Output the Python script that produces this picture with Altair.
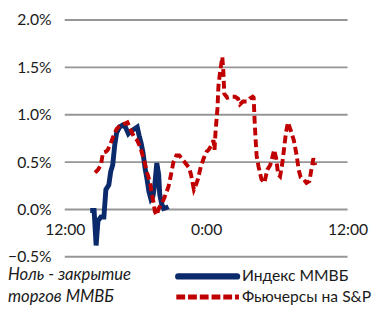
import altair as alt
import pandas as pd

# hours since 12:00 of day 1, values in %
micex_h = [2.16, 2.49, 2.66, 2.82, 3.07, 3.32, 3.49, 3.74, 3.90, 4.07, 4.24, 4.40, 4.65, 4.90, 5.15, 5.40, 5.65, 5.90,
           6.15, 6.31, 6.48, 6.64, 6.81, 6.98, 7.14, 7.31, 7.48, 7.64, 7.81, 7.97, 8.06, 8.22, 8.39, 8.64, 8.80]
micex_v = [-0.01, -0.01, -0.38, -0.12, -0.08, -0.08, 0.21, 0.26, 0.40, 0.47, 0.68, 0.81, 0.87, 0.89, 0.87, 0.80, 0.83, 0.85,
           0.87, 0.78, 0.70, 0.60, 0.44, 0.32, 0.19, 0.11, 0.14, 0.26, 0.49, 0.37, 0.16, 0.06, 0.01, 0.02, 0.03]

spx_h = [2.57, 2.82, 3.07, 3.24, 3.49, 3.65, 3.90, 4.15, 4.40, 4.65, 4.98, 5.32, 5.56, 5.90, 6.15, 6.40, 6.73, 6.98,
         7.23, 7.39, 7.56, 7.64, 7.81, 7.97, 8.22, 8.47, 8.80, 8.97, 9.22, 9.47, 9.72, 10.05, 10.30, 10.55, 10.71, 10.88,
         10.96, 11.13, 11.30, 11.54, 11.79, 12.04, 12.21, 12.46, 12.62, 12.71, 12.79, 12.96, 13.04, 13.21, 13.37, 13.46,
         13.54, 13.79, 14.12, 14.45, 14.70, 14.87, 15.12, 15.45, 15.70, 15.95, 16.03, 16.11, 16.20, 16.28, 16.45, 16.69,
         16.94, 17.19, 17.44, 17.61, 17.77, 17.94, 18.11, 18.27, 18.44, 18.60, 18.77, 18.94, 19.19, 19.44, 19.68, 19.85,
         20.02, 20.27, 20.51, 20.76, 20.93, 21.10, 21.26]
spx_v = [0.39, 0.42, 0.47, 0.60, 0.61, 0.63, 0.70, 0.78, 0.85, 0.88, 0.90, 0.92, 0.85, 0.76, 0.73, 0.66, 0.52, 0.39,
         0.29, 0.16, 0.06, -0.02, -0.06, 0.01, 0.06, 0.13, 0.24, 0.34, 0.50, 0.57, 0.57, 0.52, 0.48, 0.44, 0.37, 0.26,
         0.21, 0.26, 0.32, 0.45, 0.54, 0.61, 0.63, 0.68, 0.73, 0.63, 0.81, 1.07, 1.30, 1.48, 1.61, 1.45,
         1.22, 1.18, 1.19, 1.19, 1.17, 1.11, 1.14, 1.14, 1.17, 1.19, 1.18, 0.94, 0.73, 0.57, 0.45, 0.32,
         0.28, 0.42, 0.47, 0.55, 0.63, 0.54, 0.37, 0.35, 0.47, 0.63, 0.81, 0.92, 0.83, 0.73, 0.57, 0.42,
         0.34, 0.32, 0.28, 0.30, 0.42, 0.54, 0.47]

series_names = ["Индекс ММВБ", "Фьючерсы на S&P"]
note_lines = ["Ноль - закрытие", "торгов ММВБ"]
x_ticks = [0, 12, 24]
x_tick_labels = ["12:00", "0:00", "12:00"]
y_ticks = [-0.005, 0.0, 0.005, 0.01, 0.015, 0.02]

blue = "#0b2a6b"
red = "#c00000"
FONT = "Lato"
FS = 16
TXT = "#1a1a1a"
GRID = "#969696"

df_m = pd.DataFrame({"h": micex_h, "v": [v / 100 for v in micex_v], "s": series_names[0]})
df_s = pd.DataFrame({"h": spx_h, "v": [v / 100 for v in spx_v], "s": series_names[1]})
df_grid = pd.DataFrame({"g": y_ticks})

label_map = " : ".join(f"datum.value == {t} ? '{l}'" for t, l in zip(x_ticks, x_tick_labels)) + " : ''"

x_scale = alt.Scale(domain=[-0.0001, 24.0001], nice=False)
x_axis = alt.Axis(values=x_ticks, labelExpr=label_map, title=None, grid=False, domain=False,
                  ticks=False, offset=-48.4, labelPadding=13, labelFont=FONT, labelFontSize=FS,
                  labelColor=TXT, labelFlush=False)
y_scale = alt.Scale(domain=[-0.00500001, 0.02000001], nice=False)
y_axis = alt.Axis(values=y_ticks, format=".1%", title=None, domain=False, ticks=False, grid=False,
                  labelPadding=14, labelFont=FONT, labelFontSize=FS, labelColor=TXT)

grid = alt.Chart(df_grid).mark_rule(color=GRID, strokeWidth=2).encode(
    y=alt.Y("g:Q", scale=y_scale, axis=y_axis))

line_m = alt.Chart(df_m).mark_line(color=blue, strokeWidth=5).encode(
    x=alt.X("h:Q", scale=x_scale, axis=x_axis), y=alt.Y("v:Q"), order="h:Q")
line_s = alt.Chart(df_s).mark_line(color=red, strokeWidth=4, strokeDash=[8, 4]).encode(
    x=alt.X("h:Q"), y=alt.Y("v:Q"), order="h:Q")

# legend (manual)
leg_blue = alt.Chart(pd.DataFrame({"a": [0]})).mark_rule(color=blue, strokeWidth=6.5, strokeCap="round").encode(
    x=alt.value(116), x2=alt.value(176), y=alt.value(262))
leg_red = alt.Chart(pd.DataFrame({"a": [0]})).mark_rule(color=red, strokeWidth=5, strokeDash=[9, 3]).encode(
    x=alt.value(114), x2=alt.value(178), y=alt.value(283))
leg_text = alt.Chart(pd.DataFrame({"t": series_names, "yy": [262, 283]})).mark_text(
    align="left", baseline="middle", font=FONT, fontSize=16, color=TXT).encode(
    x=alt.value(181), y=alt.Y("yy:Q", scale=None), text="t:N")
note_text = alt.Chart(pd.DataFrame({"t": note_lines, "yy": [261, 283]})).mark_text(
    align="left", baseline="middle", font=FONT, fontSize=17, fontStyle="italic", color=TXT).encode(
    x=alt.value(-58), y=alt.Y("yy:Q", scale=None), text="t:N")

chart = alt.layer(grid, line_m, line_s, leg_blue, leg_red, leg_text, note_text).properties(
    width=289, height=242,
    autosize=alt.AutoSizeParams(type="none"),
    padding={"left": 58, "top": 9, "right": 27, "bottom": 50},
).configure_view(stroke=None)

chart.save("out.html", embed_options={"renderer": "svg", "actions": False})
